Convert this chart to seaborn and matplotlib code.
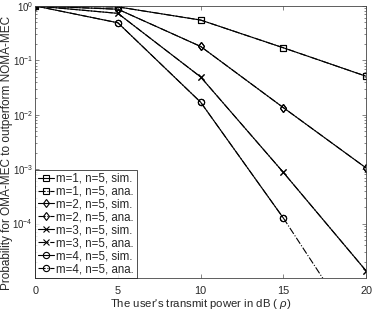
import numpy as np
import pandas as pd
import matplotlib
matplotlib.use('Agg')
import matplotlib.pyplot as plt
import seaborn as sns

# datos
potencia = [0, 5, 10, 15, 20]
m1_sim = [1.0, 0.96, 0.55, 0.17, 0.051]
m1_ana = [1.0, 0.96, 0.55, 0.17, 0.051]
m2_sim = [1.0, 0.87, 0.18, 0.0135, 0.00105]
m2_ana = [1.0, 0.87, 0.18, 0.0135, 0.00105]
m3_sim = [1.0, 0.73, 0.0495, 0.00087, 1.35e-5]
m3_ana = [1.0, 0.73, 0.0495, 0.00087, 1.35e-5]
m4_sim = [1.0, 0.49, 0.017, 0.000126, np.nan]
m4_ana = [1.0, 0.49, 0.017, 0.000126, 6e-7]

series = [
    ('m=1, n=5, sim.', m1_sim, 's', '-'),
    ('m=1, n=5, ana.', m1_ana, 's', '-.'),
    ('m=2, n=5, sim.', m2_sim, 'd', '-'),
    ('m=2, n=5, ana.', m2_ana, 'd', '-.'),
    ('m=3, n=5, sim.', m3_sim, 'x', '-'),
    ('m=3, n=5, ana.', m3_ana, 'x', '-.'),
    ('m=4, n=5, sim.', m4_sim, 'o', '-'),
    ('m=4, n=5, ana.', m4_ana, 'o', '-.'),
]

sns.set_style('ticks')
plt.rcParams['font.family'] = ['Liberation Sans', 'DejaVu Sans']
plt.rcParams['mathtext.fontset'] = 'custom'
plt.rcParams['mathtext.rm'] = 'Liberation Sans'
plt.rcParams['mathtext.it'] = 'Liberation Sans:italic'

fig = plt.figure(figsize=(3.74, 3.12), dpi=100)
ax = fig.add_axes([0.094, 0.109, 0.885, 0.872])

for nombre, valores, marca, estilo in series:
    df = pd.DataFrame({'x': potencia, 'y': valores}).dropna()
    sns.lineplot(data=df, x='x', y='y', ax=ax, label=nombre, color='black',
                 linestyle=estilo, marker=marca, markersize=4.5, markerfacecolor='none',
                 markeredgecolor='black', markeredgewidth=0.8, linewidth=0.8)

ax.set_yscale('log')
ax.set_xlim(0, 20)
ax.set_ylim(1e-5, 1)
ax.set_xticks([0, 5, 10, 15, 20])
ax.set_yticks([1e-4, 1e-3, 1e-2, 1e-1, 1])
ax.set_xlabel(r"The user's transmit power in dB ( $\rho$)", fontsize=8.2, labelpad=0.5)
ax.set_ylabel('Probability for OMA-MEC to outperform NOMA-MEC', fontsize=8.5)
ax.yaxis.set_label_coords(-0.067, 0.46)
ax.tick_params(which='both', direction='in', top=True, right=True, width=0.5, color='#555555')
ax.tick_params(which='major', length=3)
ax.tick_params(which='minor', length=1.5)
ax.tick_params(axis='x', which='major', pad=6, labelsize=7.8)
ax.tick_params(axis='y', which='major', pad=1.5, labelsize=7)
for s in ax.spines.values():
    s.set_linewidth(0.6)
    s.set_color('#444444')

leg = ax.legend(loc='lower left', fontsize=8.3, frameon=True, fancybox=False,
                edgecolor='black', handlelength=1.4, handletextpad=0.15,
                borderpad=0.25, labelspacing=0.08, borderaxespad=0)
leg.get_frame().set_linewidth(0.6)

fig.savefig('out.png', dpi=100)
